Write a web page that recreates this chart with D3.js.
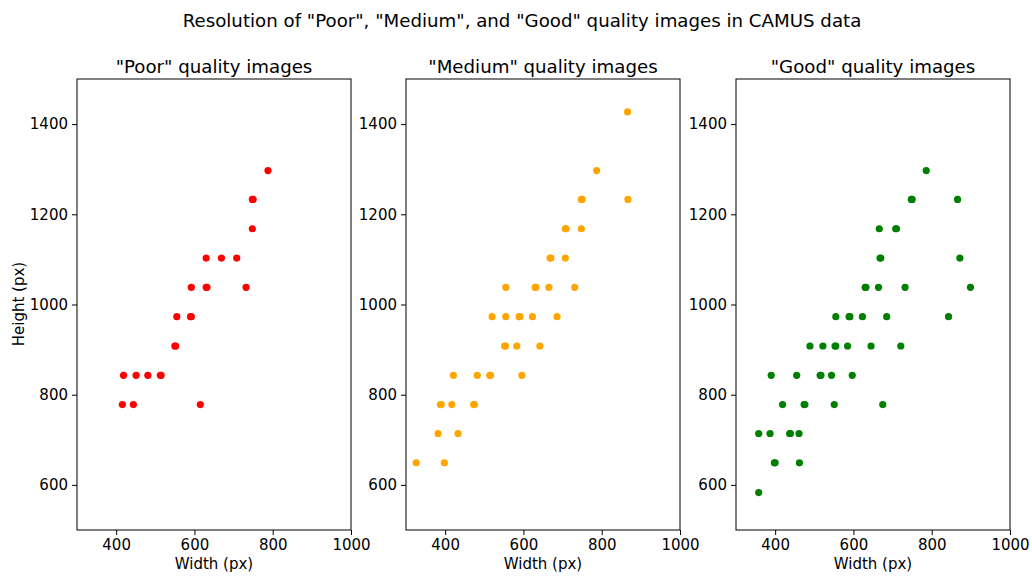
<!DOCTYPE html>
<html>
<head>
<meta charset="utf-8">
<script src="https://cdn.jsdelivr.net/npm/d3@7"></script>
<style>
  html, body { margin: 0; padding: 0; background: #fff; }
  svg { display: block; font-family: "DejaVu Sans", sans-serif; }
</style>
</head>
<body>
<svg id="chart" width="1032" height="576"></svg>
<script>
// Image resolutions (width, height in px) grouped by image quality
const poorWidth   = [788, 748, 750, 748, 630, 669, 708, 592, 630, 632, 732, 555, 590, 592, 550, 552, 419, 451, 481, 513, 515, 416, 444, 615];
const poorHeight  = [1297, 1233, 1233, 1168, 1103, 1103, 1103, 1038, 1038, 1038, 1038, 973, 973, 973, 908, 908, 843, 843, 843, 843, 843, 778, 778, 778];

const mediumWidth  = [866, 787, 748, 750, 867, 707, 709, 748, 668, 670, 707, 555, 630, 632, 665, 731, 520, 555, 589, 591, 623, 686, 552, 554, 583, 642, 421, 482, 514, 516, 596, 388, 390, 417, 473, 475, 382, 433, 326, 398];
const mediumHeight = [1427, 1297, 1233, 1233, 1233, 1168, 1168, 1168, 1103, 1103, 1103, 1038, 1038, 1038, 1038, 1038, 973, 973, 973, 973, 973, 973, 908, 908, 908, 908, 843, 843, 843, 843, 843, 778, 778, 778, 778, 778, 714, 714, 649, 649];

const goodWidth  = [786, 748, 750, 866, 666, 708, 710, 668, 670, 872, 630, 632, 664, 732, 899, 555, 589, 591, 623, 685, 843, 489, 522, 553, 555, 585, 645, 721, 390, 455, 515, 517, 544, 597, 419, 474, 476, 551, 675, 358, 387, 437, 439, 461, 398, 400, 462, 358];
const goodHeight = [1297, 1233, 1233, 1233, 1168, 1168, 1168, 1103, 1103, 1103, 1038, 1038, 1038, 1038, 1038, 973, 973, 973, 973, 973, 973, 908, 908, 908, 908, 908, 908, 908, 843, 843, 843, 843, 843, 843, 778, 778, 778, 778, 778, 714, 714, 714, 714, 714, 649, 649, 649, 583];

const panelTitles = ['"Poor" quality images', '"Medium" quality images', '"Good" quality images'];
const panelColors = ["#ff0000", "#ffa500", "#008000"];
const panelWidths = [poorWidth, mediumWidth, goodWidth];
const panelHeights = [poorHeight, mediumHeight, goodHeight];

const xTicks = [400, 600, 800, 1000];
const yTicks = [600, 800, 1000, 1200, 1400];
const xDomain = [300, 1000];
const yDomain = [500, 1500];

const svg = d3.select("#chart");

const panelLefts = [77, 406, 736];
const panelW = 274;
const plotTop = 79, plotBottom = 530;

svg.append("text")
  .attr("x", 522).attr("y", 27)
  .attr("text-anchor", "middle")
  .attr("font-size", 18.2)
  .text('Resolution of "Poor", "Medium", and "Good" quality images in CAMUS data');

panelTitles.forEach((title, i) => {
  const left = panelLefts[i];
  const x = d3.scaleLinear().domain(xDomain).range([left, left + panelW]);
  const y = d3.scaleLinear().domain(yDomain).range([plotBottom, plotTop]);
  const g = svg.append("g");

  const xAxis = g.append("g")
    .attr("transform", `translate(0,${plotBottom})`)
    .call(d3.axisBottom(x).tickValues(xTicks).tickFormat(d3.format("d")).tickSizeOuter(0).tickSize(5).tickPadding(4));
  const yAxis = g.append("g")
    .attr("transform", `translate(${left},0)`)
    .call(d3.axisLeft(y).tickValues(yTicks).tickFormat(d3.format("d")).tickSizeOuter(0).tickSize(5).tickPadding(4));
  [xAxis, yAxis].forEach(a => {
    a.select(".domain").remove();
    a.selectAll("text").attr("font-size", 15).attr("font-family", "DejaVu Sans, sans-serif").attr("fill", "#000");
    a.selectAll("line").attr("stroke", "#000").attr("stroke-width", 1);
  });

  // frame
  g.append("rect")
    .attr("x", left).attr("y", plotTop)
    .attr("width", panelW).attr("height", plotBottom - plotTop)
    .attr("fill", "none").attr("stroke", "#000").attr("stroke-width", 1);

  const pts = panelWidths[i].map((w, k) => ({ w, h: panelHeights[i][k] }));
  g.selectAll("circle").data(pts).join("circle")
    .attr("cx", d => x(d.w))
    .attr("cy", d => y(d.h))
    .attr("r", 3.6)
    .attr("fill", panelColors[i]);

  g.append("text")
    .attr("x", left + panelW / 2).attr("y", 73)
    .attr("text-anchor", "middle")
    .attr("font-size", 18.2)
    .text(title);

  g.append("text")
    .attr("x", left + panelW / 2).attr("y", 569)
    .attr("text-anchor", "middle")
    .attr("font-size", 15)
    .text("Width (px)");
});

svg.append("text")
  .attr("transform", "translate(24,304) rotate(-90)")
  .attr("text-anchor", "middle")
  .attr("font-size", 15)
  .text("Height (px)");
</script>
</body>
</html>
